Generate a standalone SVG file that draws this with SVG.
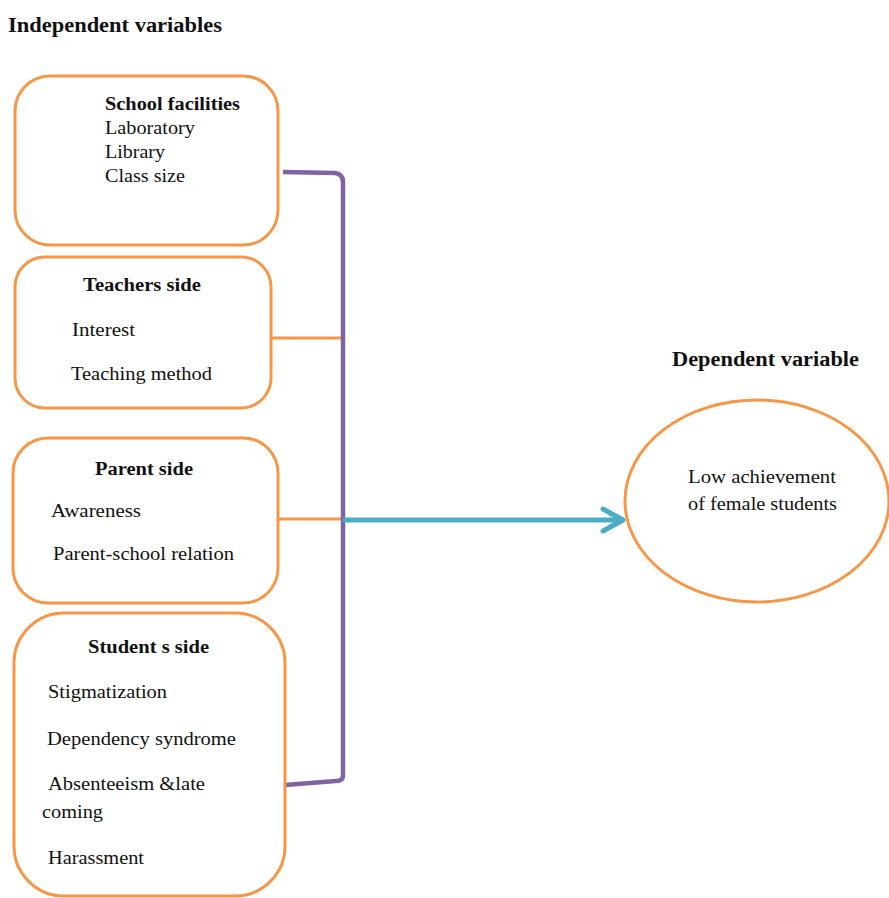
<svg xmlns="http://www.w3.org/2000/svg" width="889" height="898" viewBox="0 0 889 898">
<style>
.box{fill:#fff;stroke:#f79646;stroke-width:3}
.t{font-family:"Liberation Serif","Times New Roman",serif;font-size:18px;fill:#111}
.b{font-weight:bold}
.h{font-family:"Liberation Serif","Times New Roman",serif;font-size:20px;font-weight:bold;fill:#111}
.or{fill:none;stroke:#f79646;stroke-width:3}
.pu{fill:none;stroke:#8064a2;stroke-width:4.5;stroke-linejoin:round}
.bl{fill:none;stroke:#4bacc6;stroke-width:5;stroke-linecap:round;stroke-linejoin:round}
</style>
<rect width="889" height="898" fill="#fff"/>
<text class="h" x="8" y="32" textLength="214" lengthAdjust="spacingAndGlyphs">Independent variables</text>
<text class="h" x="672" y="366" textLength="187" lengthAdjust="spacingAndGlyphs">Dependent variable</text>
<g id="connectors">
<line class="or" x1="271" y1="338" x2="343" y2="338"/>
<line class="or" x1="278" y1="519" x2="343" y2="519"/>
<path class="pu" d="M283 172 L335 173 Q343 174 343 182 L343 776 Q343 781 336 781 L285 785"/>
<path class="bl" d="M345 520 L622 520 M603 509 L623 520 L603 531"/>
</g>
<g id="school">
<rect class="box" x="15" y="76" width="263" height="169" rx="35"/>
<text class="t b" x="105" y="110" textLength="135" lengthAdjust="spacingAndGlyphs">School facilities</text>
<text class="t" x="105" y="134" textLength="90" lengthAdjust="spacingAndGlyphs">Laboratory</text>
<text class="t" x="105" y="158" textLength="60" lengthAdjust="spacingAndGlyphs">Library</text>
<text class="t" x="105" y="182" textLength="80" lengthAdjust="spacingAndGlyphs">Class size</text>
</g>
<g id="teachers">
<rect class="box" x="15" y="257" width="256" height="151" rx="30"/>
<text class="t b" x="83" y="291" textLength="118" lengthAdjust="spacingAndGlyphs">Teachers side</text>
<text class="t" x="72" y="336" textLength="63" lengthAdjust="spacingAndGlyphs">Interest</text>
<text class="t" x="71" y="380" textLength="141" lengthAdjust="spacingAndGlyphs">Teaching method</text>
</g>
<g id="parent">
<rect class="box" x="13" y="438" width="265" height="165" rx="35"/>
<text class="t b" x="95" y="475" textLength="98" lengthAdjust="spacingAndGlyphs">Parent side</text>
<text class="t" x="51" y="517" textLength="90" lengthAdjust="spacingAndGlyphs">Awareness</text>
<text class="t" x="53" y="560" textLength="181" lengthAdjust="spacingAndGlyphs">Parent-school relation</text>
</g>
<g id="student">
<rect class="box" x="14" y="613" width="271" height="283" rx="50"/>
<text class="t b" x="88" y="653" textLength="121" lengthAdjust="spacingAndGlyphs">Student s side</text>
<text class="t" x="48" y="698" textLength="119" lengthAdjust="spacingAndGlyphs">Stigmatization</text>
<text class="t" x="47" y="745" textLength="189" lengthAdjust="spacingAndGlyphs">Dependency syndrome</text>
<text class="t" x="48" y="790" textLength="157" lengthAdjust="spacingAndGlyphs">Absenteeism &amp;late</text>
<text class="t" x="42" y="818" textLength="61" lengthAdjust="spacingAndGlyphs">coming</text>
<text class="t" x="48" y="864" textLength="96" lengthAdjust="spacingAndGlyphs">Harassment</text>
</g>
<g id="outcome">
<ellipse class="box" cx="757" cy="501" rx="132" ry="101"/>
<text class="t" x="688" y="483" textLength="148" lengthAdjust="spacingAndGlyphs">Low achievement</text>
<text class="t" x="688" y="510" textLength="149" lengthAdjust="spacingAndGlyphs">of female students</text>
</g>
</svg>
